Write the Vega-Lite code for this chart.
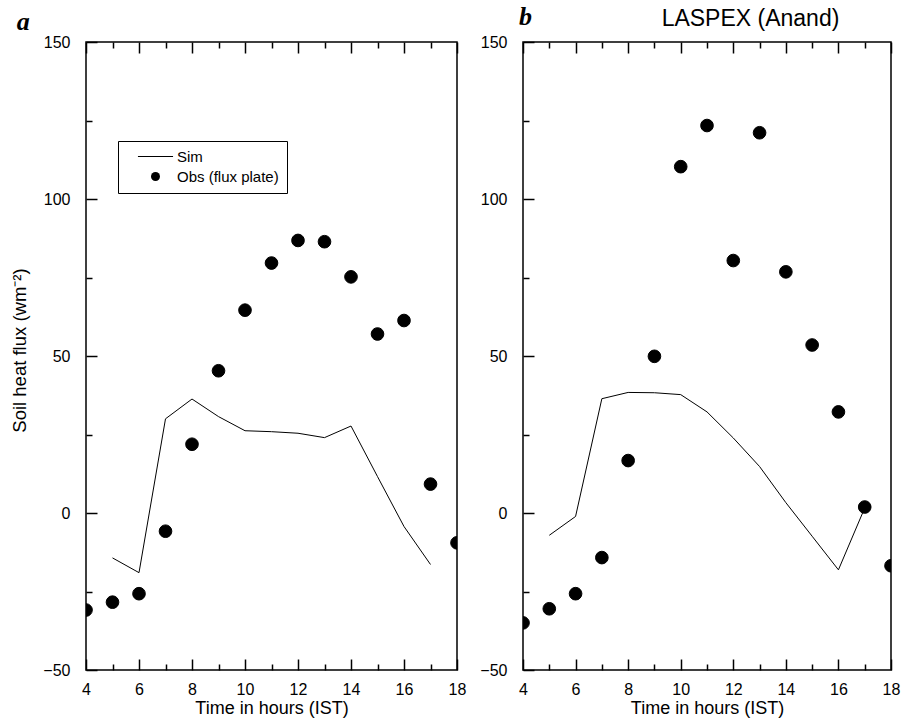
{
  "$schema": "https://vega.github.io/schema/vega-lite/v6.json",
  "background": "white",
  "padding": {"left": 10, "top": 3, "right": 5, "bottom": 5},
  "config": {
    "font": "Liberation Sans",
    "view": {"stroke": "black", "strokeWidth": 1.5},
    "axis": {
      "grid": false, "domain": false,
      "labelFont": "Liberation Sans", "labelFontSize": 16, "labelColor": "black", "labelFlush": false, "labelOverlap": false,
      "titleFont": "Liberation Sans", "titleFontSize": 18, "titleFontWeight": "normal", "titleColor": "black",
      "tickColor": "black", "tickWidth": 1.5
    },
    "legend": {"labelFont": "Liberation Sans", "labelFontSize": 15, "labelColor": "black"}
  },
  "datasets": {
    "left": [
      {"hour": 5, "flux": -14.3, "series": "Sim"},
      {"hour": 6, "flux": -19.0, "series": "Sim"},
      {"hour": 7, "flux": 30.0, "series": "Sim"},
      {"hour": 8, "flux": 36.3, "series": "Sim"},
      {"hour": 9, "flux": 30.7, "series": "Sim"},
      {"hour": 10, "flux": 26.2, "series": "Sim"},
      {"hour": 11, "flux": 25.9, "series": "Sim"},
      {"hour": 12, "flux": 25.4, "series": "Sim"},
      {"hour": 13, "flux": 24.0, "series": "Sim"},
      {"hour": 14, "flux": 27.7, "series": "Sim"},
      {"hour": 15, "flux": 11.6, "series": "Sim"},
      {"hour": 16, "flux": -4.3, "series": "Sim"},
      {"hour": 17, "flux": -16.4, "series": "Sim"},
      {"hour": 4, "flux": -30.9, "series": "Obs (flux plate)"},
      {"hour": 5, "flux": -28.4, "series": "Obs (flux plate)"},
      {"hour": 6, "flux": -25.7, "series": "Obs (flux plate)"},
      {"hour": 7, "flux": -5.8, "series": "Obs (flux plate)"},
      {"hour": 8, "flux": 21.9, "series": "Obs (flux plate)"},
      {"hour": 9, "flux": 45.3, "series": "Obs (flux plate)"},
      {"hour": 10, "flux": 64.6, "series": "Obs (flux plate)"},
      {"hour": 11, "flux": 79.6, "series": "Obs (flux plate)"},
      {"hour": 12, "flux": 86.8, "series": "Obs (flux plate)"},
      {"hour": 13, "flux": 86.4, "series": "Obs (flux plate)"},
      {"hour": 14, "flux": 75.2, "series": "Obs (flux plate)"},
      {"hour": 15, "flux": 57.0, "series": "Obs (flux plate)"},
      {"hour": 16, "flux": 61.3, "series": "Obs (flux plate)"},
      {"hour": 17, "flux": 9.2, "series": "Obs (flux plate)"},
      {"hour": 18, "flux": -9.5, "series": "Obs (flux plate)"}
    ],
    "right": [
      {"hour": 5, "flux": -7.1, "series": "Sim"},
      {"hour": 6, "flux": -1.1, "series": "Sim"},
      {"hour": 7, "flux": 36.4, "series": "Sim"},
      {"hour": 8, "flux": 38.4, "series": "Sim"},
      {"hour": 9, "flux": 38.3, "series": "Sim"},
      {"hour": 10, "flux": 37.7, "series": "Sim"},
      {"hour": 11, "flux": 32.2, "series": "Sim"},
      {"hour": 12, "flux": 23.9, "series": "Sim"},
      {"hour": 13, "flux": 14.8, "series": "Sim"},
      {"hour": 14, "flux": 3.3, "series": "Sim"},
      {"hour": 15, "flux": -7.4, "series": "Sim"},
      {"hour": 16, "flux": -18.1, "series": "Sim"},
      {"hour": 17, "flux": 1.6, "series": "Sim"},
      {"hour": 4, "flux": -35.0, "series": "Obs (flux plate)"},
      {"hour": 5, "flux": -30.5, "series": "Obs (flux plate)"},
      {"hour": 6, "flux": -25.7, "series": "Obs (flux plate)"},
      {"hour": 7, "flux": -14.2, "series": "Obs (flux plate)"},
      {"hour": 8, "flux": 16.7, "series": "Obs (flux plate)"},
      {"hour": 9, "flux": 49.9, "series": "Obs (flux plate)"},
      {"hour": 10, "flux": 110.3, "series": "Obs (flux plate)"},
      {"hour": 11, "flux": 123.4, "series": "Obs (flux plate)"},
      {"hour": 12, "flux": 80.4, "series": "Obs (flux plate)"},
      {"hour": 13, "flux": 121.1, "series": "Obs (flux plate)"},
      {"hour": 14, "flux": 76.8, "series": "Obs (flux plate)"},
      {"hour": 15, "flux": 53.5, "series": "Obs (flux plate)"},
      {"hour": 16, "flux": 32.2, "series": "Obs (flux plate)"},
      {"hour": 17, "flux": 1.9, "series": "Obs (flux plate)"},
      {"hour": 18, "flux": -16.8, "series": "Obs (flux plate)"}
    ]
  },
  "spacing": 12,
  "resolve": {"legend": {"shape": "independent"}, "scale": {"shape": "independent"}},
  "hconcat": [
    {
      "width": 371, "height": 628,
      "title": {"text": "a", "anchor": "start", "frame": "bounds", "font": "Liberation Serif", "fontSize": 26, "fontWeight": "bold", "fontStyle": "italic", "color": "black", "dx": 6, "offset": -1},
      "data": {"name": "left"},
      "layer": [
        {
          "transform": [{"filter": "datum.series === 'Sim'"}],
          "mark": {"type": "line", "color": "black", "strokeWidth": 1, "clip": true},
          "encoding": {
            "x": {"field": "hour", "type": "quantitative", "scale": {"domain": [4, 18], "nice": false, "zero": false},
              "axis": {"orient": "top", "values": [4, 6, 8, 10, 12, 14, 16, 18], "labels": false, "title": null, "tickSize": -11}},
            "y": {"field": "flux", "type": "quantitative", "scale": {"domain": [-50, 150], "nice": false, "zero": false},
              "axis": {"orient": "left", "values": [-50, 0, 50, 100, 150], "tickSize": -11, "labelPadding": 27, "title": "Soil heat flux (wm⁻²)", "titleFontSize": 18.5, "titlePadding": 13, "titleY": 308}}
          }
        },
        {
          "transform": [{"filter": "datum.series !== 'Sim'"}],
          "mark": {"type": "point", "filled": true, "color": "black", "stroke": "black", "strokeWidth": 1, "opacity": 1, "size": 160, "clip": true},
          "encoding": {
            "x": {"field": "hour", "type": "quantitative", "scale": {"domain": [4, 18], "nice": false, "zero": false},
              "axis": {"orient": "bottom", "values": [4, 6, 8, 10, 12, 14, 16, 18], "tickSize": -11, "labelPadding": 22, "title": "Time in hours (IST)", "titlePadding": 2}},
            "y": {"field": "flux", "type": "quantitative", "scale": {"domain": [-50, 150], "nice": false, "zero": false},
              "axis": {"orient": "left", "values": [-25, 25, 75, 125], "labels": false, "tickSize": -6, "title": null}},
            "shape": {"field": "series", "type": "nominal",
              "scale": {"domain": ["Sim", "Obs (flux plate)"], "range": ["M-3.9,-0.12H3.9V0.12H-3.9Z", "circle"]},
              "legend": {"title": null, "orient": "none", "legendX": 32, "legendY": 99, "strokeColor": "black", "padding": 8, "rowPadding": 4,
                "symbolSize": 81, "symbolOffset": 22, "labelOffset": 14, "symbolStrokeColor": "black", "symbolFillColor": "black", "symbolStrokeWidth": 0.5}}
          }
        },
        {
          "transform": [{"filter": "datum.series !== 'Sim'"}],
          "mark": {"type": "point", "opacity": 0, "clip": true},
          "encoding": {
            "x": {"field": "hour", "type": "quantitative", "scale": {"domain": [4, 18], "nice": false, "zero": false},
              "axis": {"orient": "bottom", "values": [5, 7, 9, 11, 13, 15, 17], "labels": false, "tickSize": -6, "title": null}},
            "y": {"field": "flux", "type": "quantitative", "scale": {"domain": [-50, 150], "nice": false, "zero": false}, "axis": null}
          }
        },
        {
          "transform": [{"filter": "datum.series !== 'Sim'"}],
          "mark": {"type": "point", "opacity": 0, "clip": true},
          "encoding": {
            "x": {"field": "hour", "type": "quantitative", "scale": {"domain": [4, 18], "nice": false, "zero": false},
              "axis": {"orient": "top", "values": [5, 7, 9, 11, 13, 15, 17], "labels": false, "tickSize": -6, "title": null}},
            "y": {"field": "flux", "type": "quantitative", "scale": {"domain": [-50, 150], "nice": false, "zero": false}, "axis": null}
          }
        }
      ],
      "resolve": {"axis": {"x": "independent", "y": "independent"}}
    },
    {
      "width": 368, "height": 628,
      "title": {"text": "b", "anchor": "start", "frame": "group", "font": "Liberation Serif", "fontSize": 26, "fontWeight": "bold", "fontStyle": "italic", "color": "black", "dx": -4, "offset": 2, "dy": 25},
      "data": {"name": "right"},
      "layer": [
        {
          "transform": [{"filter": "datum.series === 'Sim'"}],
          "mark": {"type": "line", "color": "black", "strokeWidth": 1, "clip": true},
          "encoding": {
            "x": {"field": "hour", "type": "quantitative", "scale": {"domain": [4, 18], "nice": false, "zero": false},
              "axis": {"orient": "top", "values": [4, 6, 8, 10, 12, 14, 16, 18], "labels": false, "tickSize": -11, "title": "LASPEX (Anand)", "titleFontSize": 23, "titleX": 227, "titleY": -17, "titleBaseline": "alphabetic", "titleAlign": "center"}},
            "y": {"field": "flux", "type": "quantitative", "scale": {"domain": [-50, 150], "nice": false, "zero": false},
              "axis": {"orient": "left", "values": [-50, 0, 50, 100, 150], "tickSize": -11, "labelPadding": 27, "title": null}}
          }
        },
        {
          "transform": [{"filter": "datum.series !== 'Sim'"}],
          "mark": {"type": "point", "filled": true, "color": "black", "stroke": "black", "strokeWidth": 1, "opacity": 1, "size": 160, "clip": true},
          "encoding": {
            "x": {"field": "hour", "type": "quantitative", "scale": {"domain": [4, 18], "nice": false, "zero": false},
              "axis": {"orient": "bottom", "values": [4, 6, 8, 10, 12, 14, 16, 18], "tickSize": -11, "labelPadding": 22, "title": "Time in hours (IST)", "titlePadding": 2}},
            "y": {"field": "flux", "type": "quantitative", "scale": {"domain": [-50, 150], "nice": false, "zero": false},
              "axis": {"orient": "left", "values": [-25, 25, 75, 125], "labels": false, "tickSize": -6, "title": null}}
          }
        },
        {
          "transform": [{"filter": "datum.series !== 'Sim'"}],
          "mark": {"type": "point", "opacity": 0, "clip": true},
          "encoding": {
            "x": {"field": "hour", "type": "quantitative", "scale": {"domain": [4, 18], "nice": false, "zero": false},
              "axis": {"orient": "bottom", "values": [5, 7, 9, 11, 13, 15, 17], "labels": false, "tickSize": -6, "title": null}},
            "y": {"field": "flux", "type": "quantitative", "scale": {"domain": [-50, 150], "nice": false, "zero": false}, "axis": null}
          }
        },
        {
          "transform": [{"filter": "datum.series !== 'Sim'"}],
          "mark": {"type": "point", "opacity": 0, "clip": true},
          "encoding": {
            "x": {"field": "hour", "type": "quantitative", "scale": {"domain": [4, 18], "nice": false, "zero": false},
              "axis": {"orient": "top", "values": [5, 7, 9, 11, 13, 15, 17], "labels": false, "tickSize": -6, "title": null}},
            "y": {"field": "flux", "type": "quantitative", "scale": {"domain": [-50, 150], "nice": false, "zero": false}, "axis": null}
          }
        }
      ],
      "resolve": {"axis": {"x": "independent", "y": "independent"}}
    }
  ]
}
